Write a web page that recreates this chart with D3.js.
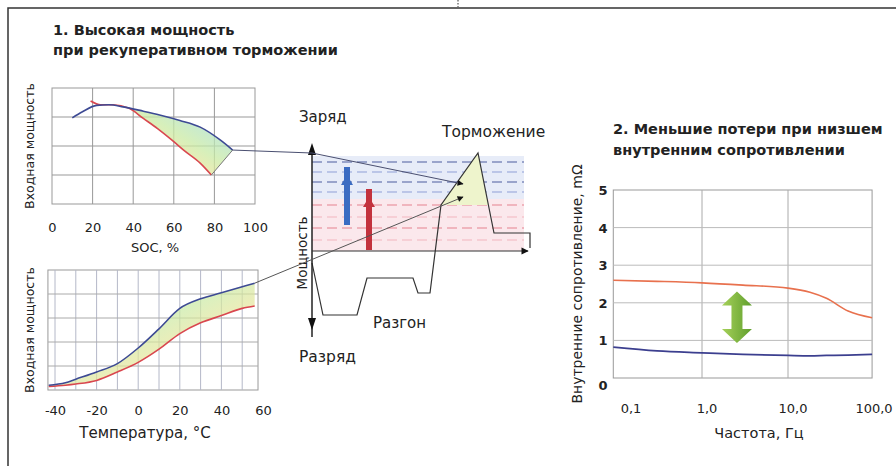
<!DOCTYPE html>
<html lang="ru">
<head>
<meta charset="UTF-8">
<title>Мощность и сопротивление</title>
<style>
body{margin:0;background:#fff;}
text{font-family:"DejaVu Sans","Liberation Sans",Arial,sans-serif;fill:#222;}
</style>
</head>
<body>
<script src="https://cdn.jsdelivr.net/npm/d3@7/dist/d3.min.js"></script>
<script>
// --- chart 1: power vs SOC
var socTicks=[0,20,40,60,80,100];
var socBlueX=[10,15,22,28,35,45,53,63,73,83,89];
var socBlueY=[2.97,3.18,3.4,3.42,3.35,3.2,3.07,2.88,2.65,2.2,1.86];
var socRedX=[19,24,30,38,45,52,60,65,73,78.5];
var socRedY=[3.55,3.42,3.42,3.3,2.95,2.6,2.15,1.85,1.41,1.0];

// --- chart 2: power vs temperature
var tempTicks=[-40,-20,0,20,40,60];
var tempX=[-43,-35,-30,-20,-10,0,10,20,30,40,50,56];
var tempBlue=[0.2,0.3,0.45,0.75,1.1,1.75,2.55,3.4,3.8,4.05,4.3,4.45];
var tempRed=[0.15,0.2,0.25,0.4,0.75,1.15,1.7,2.35,2.8,3.1,3.4,3.5];

// --- chart 3: internal resistance vs frequency
var freqTicks=[0.1,1,10,100];
var resTicks=[0,1,2,3,4,5];
var freqX=[0.093,0.3,1,3,10,18,28,50,95];
var resHigh=[2.6,2.57,2.53,2.47,2.39,2.28,2.12,1.78,1.6];
var resLow=[0.82,0.72,0.67,0.63,0.6,0.59,0.6,0.61,0.63];

// --- middle diagram: drive power profile
var profT=[0,11,45,55,101,106,118,129,166,182,218,218];
var profP=[-12,-64,-64,-27,-27,-42,-42,46,98,18,18,3];
var blueBand=[95,52], blueDash=[89,79,69,59];
var redBand=[52,0], redDash=[46,34,23,11];
var arrowT=[35,57], arrowFrom=[26,1], arrowTo=[76,54];
var tipT=151, tipP=[67,54];

var width=896, height=467;
var svg=d3.select('body').append('svg')
	.attr('width',width).attr('height',height);
var defs=svg.append('defs');

defs.append('marker').attr('id','ah')
	.attr('viewBox','0 0 10 10').attr('refX',9).attr('refY',5)
	.attr('markerWidth',7).attr('markerHeight',6).attr('orient','auto')
	.append('path').attr('d','M0,0L10,5L0,10z').attr('fill','#111');

function rainbow(id,x1,y1,x2,y2){
	var g=defs.append('linearGradient').attr('id',id)
		.attr('x1',x1).attr('y1',y1).attr('x2',x2).attr('y2',y2);
	[['0%','#f4a0b8'],['30%','#f9e294'],['55%','#c9eaa4'],['80%','#a9e0cf'],['100%','#a3d3f0']].forEach(function(s){
		g.append('stop').attr('offset',s[0]).attr('stop-color',s[1]);
	});
}
rainbow('rb1',0,1,1,0);
rainbow('rb2',1,1,0,0);
var gg=defs.append('linearGradient').attr('id','grn').attr('x1',0).attr('x2',1);
gg.append('stop').attr('offset','0%').attr('stop-color','#a6d15a');
gg.append('stop').attr('offset','100%').attr('stop-color','#5f9e2c');

// frame
svg.append('path').attr('d','M8,466V8H896').attr('fill','none')
	.attr('stroke','#333').attr('stroke-width',1.5);
svg.append('line').attr('x1',458).attr('x2',458).attr('y1',0).attr('y2',7)
	.attr('stroke','#333').attr('stroke-dasharray','1.5,1.5');

// titles
svg.append('text').attr('x',53).attr('y',35).attr('font-size',14.5).attr('font-weight','bold')
	.text('1. Высокая мощность');
svg.append('text').attr('x',53).attr('y',55).attr('font-size',14.5).attr('font-weight','bold')
	.text('при рекуперативном торможении');
svg.append('text').attr('x',613).attr('y',134).attr('font-size',14.5).attr('font-weight','bold')
	.text('2. Меньшие потери при низшем');
svg.append('text').attr('x',613).attr('y',155).attr('font-size',14.5).attr('font-weight','bold')
	.text('внутренним сопротивлении');

// ---------------- chart 1
var x1=d3.scaleLinear().domain([0,100]).range([52,255]);
var y1=d3.scaleLinear().domain([0,4]).range([204,88]);
var c1=svg.append('g');
c1.append('rect').attr('x',x1(0)).attr('y',y1(4)).attr('width',x1(100)-x1(0)).attr('height',y1(0)-y1(4))
	.attr('fill','#fff').attr('stroke','#999');
c1.selectAll('.gv').data([20,40,60,80]).enter().append('line')
	.attr('x1',x1).attr('x2',x1).attr('y1',y1(0)).attr('y2',y1(4)).attr('stroke','#999');
c1.selectAll('.gh').data([1,2,3]).enter().append('line')
	.attr('x1',x1(0)).attr('x2',x1(100)).attr('y1',y1).attr('y2',y1).attr('stroke','#999');
var area1=socBlueX.map(function(d,i){return [x1(d),y1(socBlueY[i])];}).filter(function(p,i){return socBlueX[i]>=35;})
	.concat(socRedX.map(function(d,i){return [x1(d),y1(socRedY[i])];}).filter(function(p,i){return socRedX[i]>=38;}).reverse());
c1.append('path').attr('d','M'+area1.join('L')+'Z').attr('fill','url(#rb1)').attr('opacity',0.75);
var line1=d3.line().curve(d3.curveMonotoneX);
c1.append('path').attr('d',line1(socRedX.map(function(d,i){return [x1(d),y1(socRedY[i])];})))
	.attr('fill','none').attr('stroke','#d9474f').attr('stroke-width',1.6);
c1.append('path').attr('d',line1(socBlueX.map(function(d,i){return [x1(d),y1(socBlueY[i])];})))
	.attr('fill','none').attr('stroke','#3d4a94').attr('stroke-width',1.6);
c1.append('line').attr('x1',x1(78.5)).attr('y1',y1(1.0)).attr('x2',x1(89)).attr('y2',y1(1.86))
	.attr('stroke','#777').attr('stroke-width',1);
c1.append('g').attr('transform','translate(0,'+(y1(0)+16)+')')
	.call(d3.axisBottom(x1).tickValues(socTicks).tickSize(0).tickFormat(String))
	.call(function(g){g.select('.domain').remove();g.selectAll('text').attr('font-size',13).attr('font-family',null).attr('fill','#222');});
c1.append('text').attr('x',155).attr('y',252).attr('text-anchor','middle').attr('font-size',13).text('SOC, %');
c1.append('text').attr('transform','translate(34,'+((y1(0)+y1(4))/2)+') rotate(-90)')
	.attr('text-anchor','middle').attr('font-size',12.5).attr('fill','#444').text('Входная мощность');

// ---------------- chart 2
var x2=d3.scaleLinear().domain([-40,60]).range([55,263]);
var y2=d3.scaleLinear().domain([0,5]).range([390,270]);
var xl=-43.4, xr=57.6;
var c2=svg.append('g');
c2.append('rect').attr('x',x2(xl)).attr('y',y2(5)).attr('width',x2(xr)-x2(xl)).attr('height',y2(0)-y2(5))
	.attr('fill','#fff').attr('stroke','#999');
c2.selectAll('.gv').data(d3.range(-40,51,10)).enter().append('line')
	.attr('x1',x2).attr('x2',x2).attr('y1',y2(0)).attr('y2',y2(5)).attr('stroke','#b4b8c8');
c2.selectAll('.gh').data([1,2,3,4]).enter().append('line')
	.attr('x1',x2(xl)).attr('x2',x2(xr)).attr('y1',y2).attr('y2',y2).attr('stroke','#aaa');
var area2=d3.area().x(function(d){return x2(d);})
	.y0(function(d,i){return y2(tempRed[i]);}).y1(function(d,i){return y2(tempBlue[i]);})
	.curve(d3.curveMonotoneX);
c2.append('path').attr('d',area2(tempX)).attr('fill','url(#rb2)').attr('opacity',0.7);
var line2=d3.line().curve(d3.curveMonotoneX);
c2.append('path').attr('d',line2(tempX.map(function(d,i){return [x2(d),y2(tempRed[i])];})))
	.attr('fill','none').attr('stroke','#d9474f').attr('stroke-width',1.6);
c2.append('path').attr('d',line2(tempX.map(function(d,i){return [x2(d),y2(tempBlue[i])];})))
	.attr('fill','none').attr('stroke','#3d4a94').attr('stroke-width',1.6);
c2.append('g').attr('transform','translate(0,'+(y2(0)+13)+')')
	.call(d3.axisBottom(x2).tickValues(tempTicks).tickSize(0).tickFormat(String))
	.call(function(g){g.select('.domain').remove();g.selectAll('text').attr('font-size',13).attr('font-family',null).attr('fill','#222');});
c2.append('text').attr('x',145).attr('y',438).attr('text-anchor','middle').attr('font-size',15).text('Температура, °C');
c2.append('text').attr('transform','translate(34,'+((y2(0)+y2(5))/2)+') rotate(-90)')
	.attr('text-anchor','middle').attr('font-size',12.5).attr('fill','#444').text('Входная мощность');

// ---------------- middle diagram
var tx=d3.scaleLinear().domain([0,218]).range([312,530]);
var py=d3.scaleLinear().domain([-86,106]).range([337,145]);
var dg=svg.append('g');
dg.append('rect').attr('x',tx(0)).attr('y',py(blueBand[0])).attr('width',tx(212)-tx(0))
	.attr('height',py(blueBand[1])-py(blueBand[0])).attr('fill','#e7ecf8');
dg.append('rect').attr('x',tx(0)).attr('y',py(redBand[0])).attr('width',tx(212)-tx(0))
	.attr('height',py(redBand[1])-py(redBand[0])).attr('fill','#fbe8ec');
dg.selectAll('.bd').data(blueDash).enter().append('line')
	.attr('x1',tx(0)).attr('x2',tx(212)).attr('y1',py).attr('y2',py)
	.attr('stroke',function(d,i){return i%2?'#8f9fd6':'#4c5c9e';}).attr('stroke-dasharray','10,5');
dg.selectAll('.rd').data(redDash).enter().append('line')
	.attr('x1',tx(0)).attr('x2',tx(212)).attr('y1',py).attr('y2',py)
	.attr('stroke',function(d,i){return i%2?'#f2b5be':'#e5828f';}).attr('stroke-dasharray','10,5');
// braking peak fill
var rise=[tx(profT[7]),py(profP[7])], peak=[tx(profT[8]),py(profP[8])], fall=[tx(profT[9]),py(profP[9])];
var k=(rise[1]-peak[1])/(fall[1]-peak[1]);
var side=[peak[0]+(fall[0]-peak[0])*k,rise[1]];
dg.append('path').attr('d','M'+[rise,peak,side].join('L')+'Z').attr('fill','#eef4cc');
// profile
dg.append('path').attr('d',d3.line()(profT.map(function(d,i){return [tx(d),py(profP[i])];})))
	.attr('fill','none').attr('stroke','#333').attr('stroke-width',1.2);
// axes
dg.append('line').attr('x1',tx(0)).attr('x2',tx(0)).attr('y1',py(104)).attr('y2',py(-86))
	.attr('stroke','#222').attr('stroke-width',1.5);
dg.append('path').attr('d','M'+tx(0)+','+py(108)+'l-4,12h8z').attr('fill','#111');
dg.append('path').attr('d','M'+tx(0)+','+py(-79)+'l-4,-12h8z').attr('fill','#111');
dg.append('line').attr('x1',tx(0)).attr('x2',tx(216)).attr('y1',py(0)).attr('y2',py(0))
	.attr('stroke','#333').attr('stroke-width',1.2).attr('marker-end','url(#ah)');
// charge arrows
arrowT.forEach(function(t,i){
	var col=i?'#c3323d':'#3b6cc2';
	dg.append('line').attr('x1',tx(t)).attr('x2',tx(t)).attr('y1',py(arrowFrom[i])).attr('y2',py(arrowTo[i])-8)
		.attr('stroke',col).attr('stroke-width',6);
	dg.append('path').attr('d','M'+tx(t)+','+py(arrowTo[i])+'l-6,10h12z').attr('fill',col);
});
// connectors from the two charts
var s1=[x1(socBlueX[socBlueX.length-1]),y1(socBlueY[socBlueY.length-1])];
svg.append('path').attr('d','M'+[s1,[tx(0),py(98)],[tx(tipT),py(tipP[0])]].join('L'))
	.attr('fill','none').attr('stroke','#4a4f70').attr('stroke-width',1).attr('marker-end','url(#ah)');
var s2=[x2(tempX[tempX.length-1]),y2(tempBlue[tempBlue.length-1])];
svg.append('path').attr('d','M'+[s2,[tx(tipT),py(tipP[1])]].join('L'))
	.attr('fill','none').attr('stroke','#555').attr('stroke-width',1).attr('marker-end','url(#ah)');
// labels
dg.append('text').attr('x',299).attr('y',122).attr('font-size',15).text('Заряд');
dg.append('text').attr('x',442).attr('y',137).attr('font-size',15.5).text('Торможение');
dg.append('text').attr('x',373).attr('y',328).attr('font-size',15).text('Разгон');
dg.append('text').attr('x',299).attr('y',362).attr('font-size',15.5).text('Разряд');
dg.append('text').attr('transform','translate(307,'+py(-2)+') rotate(-90)').attr('text-anchor','middle')
	.attr('font-size',13.5).attr('fill','#333').text('Мощность');

// ---------------- chart 3
var x3=d3.scaleLog().domain([0.1,100]).range([616,874]);
var y3=d3.scaleLinear().domain([0,5]).range([378,190]);
var fl=0.093, fr=95;
var c3=svg.append('g');
c3.append('rect').attr('x',x3(fl)).attr('y',y3(5)).attr('width',x3(fr)-x3(fl)).attr('height',y3(0)-y3(5))
	.attr('fill','#fff').attr('stroke','#999');
c3.selectAll('.gv').data([1,10]).enter().append('line')
	.attr('x1',x3).attr('x2',x3).attr('y1',y3(0)).attr('y2',y3(5)).attr('stroke','#aaa');
c3.selectAll('.gh').data([1,2,3,4]).enter().append('line')
	.attr('x1',x3(fl)).attr('x2',x3(fr)).attr('y1',y3).attr('y2',y3).attr('stroke','#bbb');
var line3=d3.line().curve(d3.curveMonotoneX);
c3.append('path').attr('d',line3(freqX.map(function(d,i){return [x3(d),y3(resHigh[i])];})))
	.attr('fill','none').attr('stroke','#e8714e').attr('stroke-width',1.6);
c3.append('path').attr('d',line3(freqX.map(function(d,i){return [x3(d),y3(resLow[i])];})))
	.attr('fill','none').attr('stroke','#3c3f8f').attr('stroke-width',1.8);
// green double arrow
var ax=x3(2.55), at=y3(2.3), ab=y3(0.93);
c3.append('path').attr('d','M'+ax+','+at+'l15,14h-9.5v'+(ab-at-28)+'h9.5l-15,14l-15,-14h9.5v'+(-(ab-at-28))+'h-9.5z')
	.attr('fill','url(#grn)');
var fmt=d3.formatLocale({decimal:',',thousands:' ',grouping:[3],currency:['','']}).format('.1f');
c3.selectAll('.xt').data(freqTicks).enter().append('text')
	.attr('x',function(d){return x3(d)+(d<1?15:d>50?0:5);}).attr('y',413).attr('text-anchor','middle')
	.attr('font-size',13).text(fmt);
c3.selectAll('.yt').data(resTicks).enter().append('text')
	.attr('x',603).attr('y',function(d){return y3(d)+(d===0?12:5);}).attr('text-anchor','middle')
	.attr('font-size',13).attr('font-weight','bold').text(String);
c3.append('text').attr('x',759).attr('y',438).attr('text-anchor','middle').attr('font-size',14.5).text('Частота, Гц');
c3.append('text').attr('transform','translate(582,'+((y3(0)+y3(5))/2)+') rotate(-90)')
	.attr('text-anchor','middle').attr('font-size',14).attr('fill','#444').text('Внутренние сопротивление, mΩ');
</script>
</body>
</html>
